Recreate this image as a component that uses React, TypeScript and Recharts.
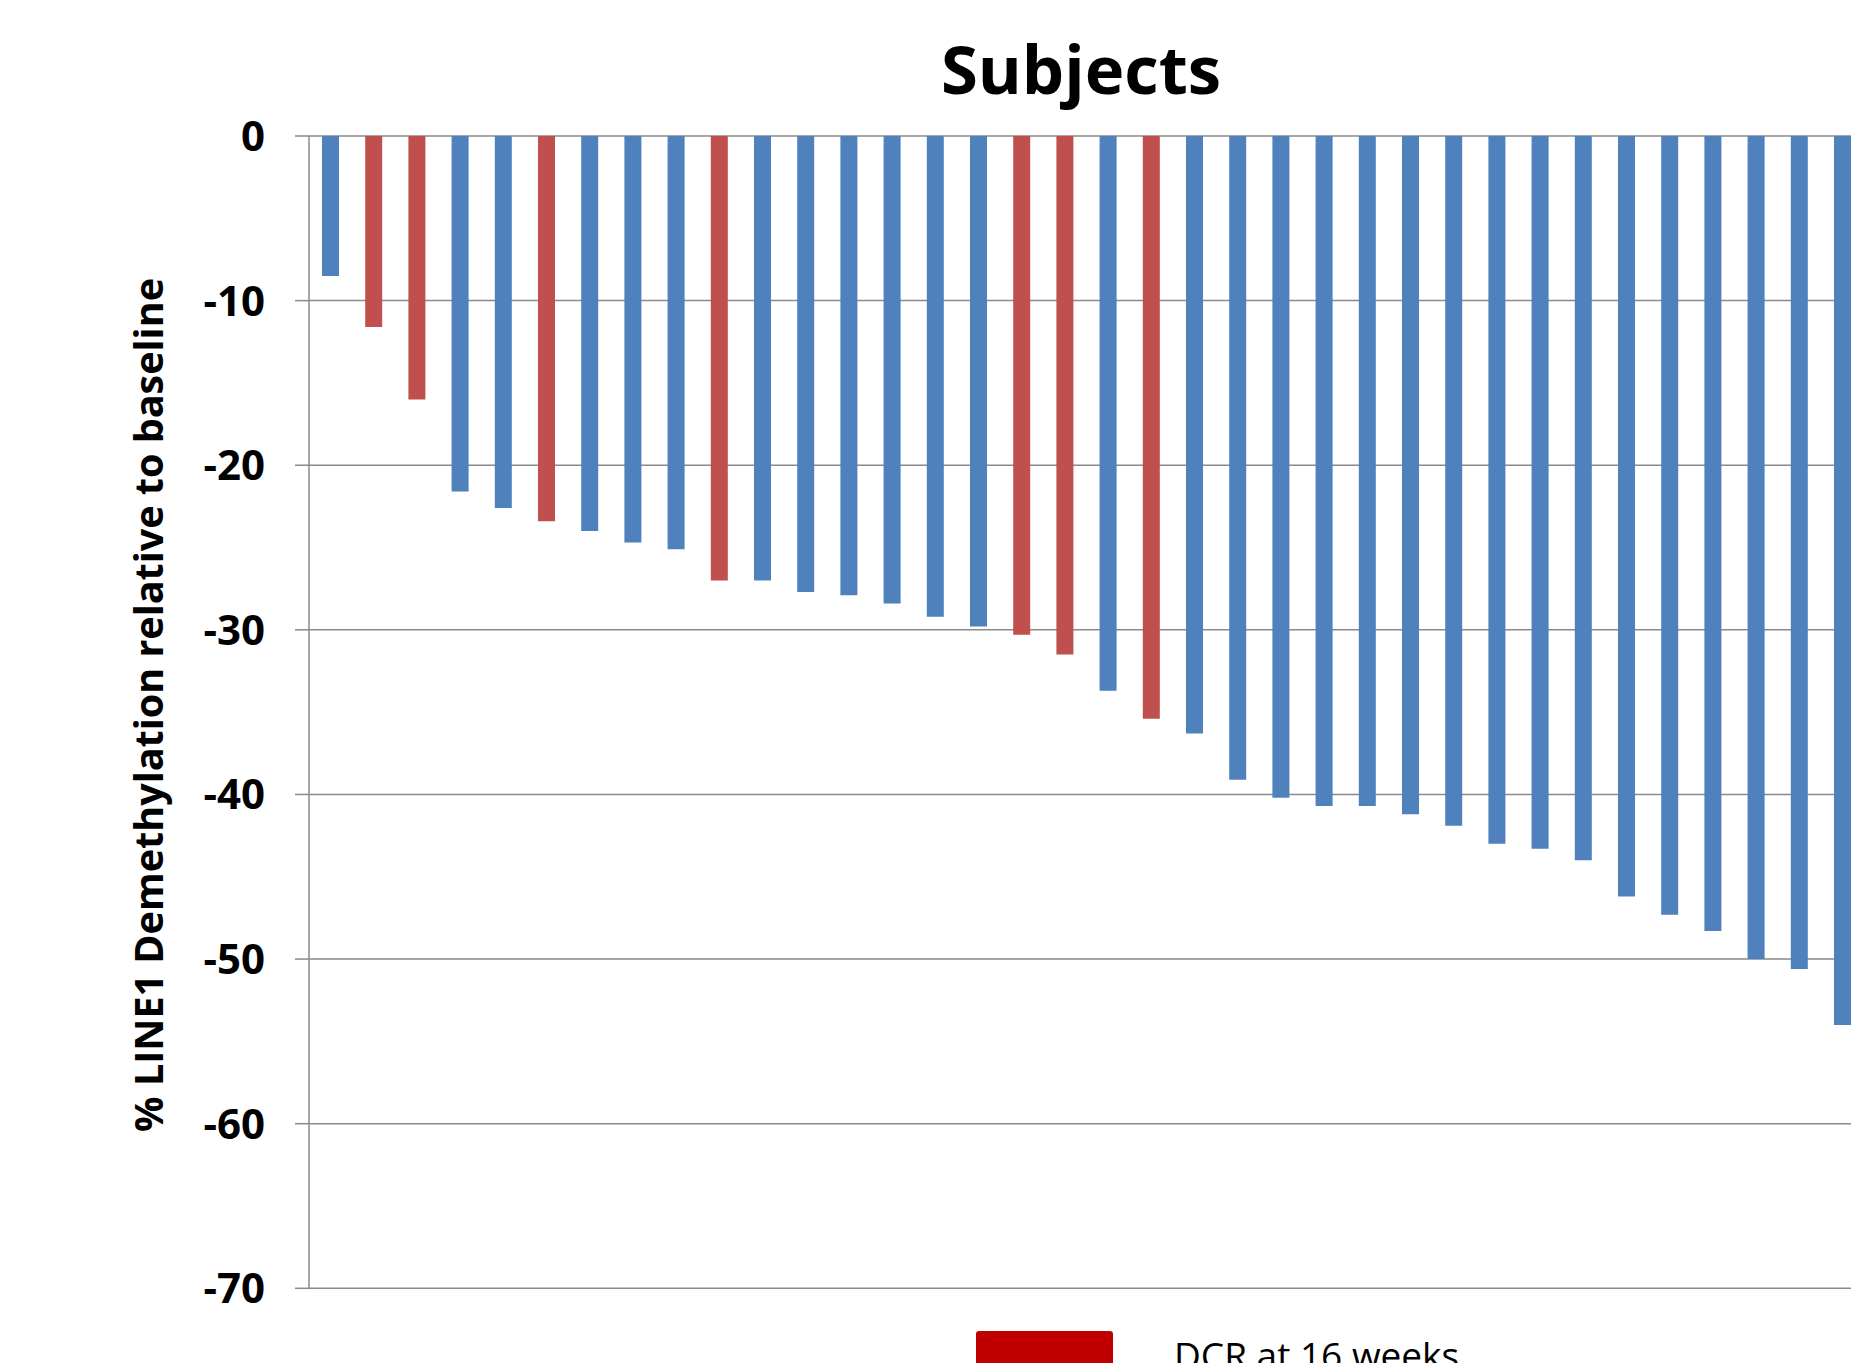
import React from 'react';
import { BarChart, Bar, XAxis, YAxis, CartesianGrid, Cell, Legend, Label } from 'recharts';

// Subject identifiers (one bar each, ordered by depth of demethylation)
const subjects = [
  'S01', 'S02', 'S03', 'S04', 'S05', 'S06', 'S07', 'S08', 'S09', 'S10', 'S11', 'S12',
  'S13', 'S14', 'S15', 'S16', 'S17', 'S18', 'S19', 'S20', 'S21', 'S22', 'S23', 'S24',
  'S25', 'S26', 'S27', 'S28', 'S29', 'S30', 'S31', 'S32', 'S33', 'S34', 'S35', 'S36',
];

// % LINE1 demethylation relative to baseline
const demethylation = [
  -8.5, -11.6, -16.0, -21.6, -22.6, -23.4, -24.0, -24.7, -25.1, -27.0, -27.0, -27.7,
  -27.9, -28.4, -29.2, -29.8, -30.3, -31.5, -33.7, -35.4, -36.3, -39.1, -40.2, -40.7,
  -40.7, -41.2, -41.9, -43.0, -43.3, -44.0, -46.2, -47.3, -48.3, -50.0, -50.6, -54.0,
];

// 1 = disease control at 16 weeks
const dcrAt16Weeks = [
  0, 1, 1, 0, 0, 1, 0, 0, 0, 1, 0, 0,
  0, 0, 0, 0, 1, 1, 0, 1, 0, 0, 0, 0,
  0, 0, 0, 0, 0, 0, 0, 0, 0, 0, 0, 0,
];

const yTicks = [0, -10, -20, -30, -40, -50, -60, -70];

const legendItems = [{ label: 'DCR at 16 weeks', color: '#C00000' }];

const BLUE = '#4F81BD';
const RED = '#C0504D';
const GRID = '#8a8a8a';
const FONT = '"Open Sans", "Noto Sans", sans-serif';

const data = subjects.map((subject, i) => ({
  subject,
  value: demethylation[i],
  dcr: dcrAt16Weeks[i] === 1,
}));

const TitleLabel = () => (
  <text x={1081} y={94} textAnchor="middle" fontFamily={FONT} fontWeight={700} fontSize={67} fill="#000">
    Subjects
  </text>
);

const YTitleLabel = () => (
  <text
    x={163}
    y={705}
    transform="rotate(-90 163 705)"
    textAnchor="middle"
    fontFamily={FONT}
    fontWeight={700}
    fontSize={39.5}
    fill="#000"
  >
    % LINE1 Demethylation relative to baseline
  </text>
);

const LegendContent = () => (
  <div style={{ display: 'flex', flexDirection: 'column', gap: 20 }}>
    {legendItems.map((item) => (
      <div key={item.label} style={{ display: 'flex', alignItems: 'flex-start' }}>
        <div
          style={{
            width: 137,
            height: 60,
            borderRadius: 3,
            background: item.color,
            marginRight: 61,
          }}
        />
        <span
          style={{
            fontFamily: FONT,
            fontSize: 37,
            lineHeight: '37px',
            marginTop: 5,
            color: '#000',
            whiteSpace: 'nowrap',
          }}
        >
          {item.label}
        </span>
      </div>
    ))}
  </div>
);

export default function App() {
  return (
    <div
      style={{
        position: 'absolute',
        left: 0,
        top: 0,
        width: 1851,
        height: 1363,
        overflow: 'hidden',
        background: '#fff',
      }}
    >
      <BarChart
        width={1900}
        height={1400}
        data={data}
        margin={{ top: 136, right: 35.8, bottom: 111.7, left: 0 }}
      >
        <CartesianGrid vertical={false} stroke={GRID} strokeWidth={1.5} />
        <XAxis dataKey="subject" hide />
        <YAxis
          type="number"
          domain={[-70, 0]}
          ticks={yTicks}
          interval={0}
          width={309}
          tickSize={14}
          tickMargin={30}
          axisLine={{ stroke: GRID, strokeWidth: 1.5 }}
          tickLine={{ stroke: GRID, strokeWidth: 1.5 }}
          tick={{ fill: '#000', fontSize: 42, fontWeight: 700, fontFamily: FONT }}
        >
          <Label content={YTitleLabel} />
          <Label content={TitleLabel} />
        </YAxis>
        <Legend
          layout="horizontal"
          verticalAlign="middle"
          align="center"
          content={LegendContent}
          wrapperStyle={{ position: 'absolute', left: 976, top: 1331, width: 700 }}
        />
        <Bar dataKey="value" barSize={17} isAnimationActive={false}>
          {data.map((d) => (
            <Cell key={d.subject} fill={d.dcr ? RED : BLUE} />
          ))}
        </Bar>
      </BarChart>
    </div>
  );
}
